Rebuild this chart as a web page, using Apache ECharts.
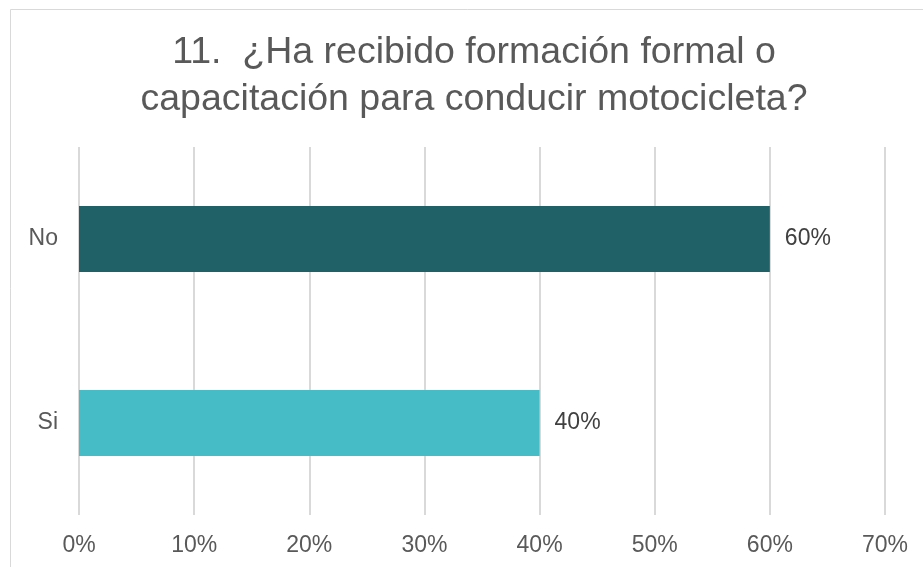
<!DOCTYPE html>
<html>
<head>
<meta charset="utf-8">
<script src="https://cdn.jsdelivr.net/npm/echarts@6/dist/echarts.min.js"></script>
<style>
  html, body { margin: 0; padding: 0; background: #fff; }
  #chart { width: 923px; height: 567px; }
</style>
</head>
<body>
<div id="chart"></div>
<script>
var categories = ['Si', 'No']
var values = [40, 60]
var barColors = ['#45BCC6', '#1F6167']
var tickMax = 70

var chart = echarts.init(document.getElementById('chart'))
chart.setOption({
  animation: false,
  graphic: [{
    type: 'rect',
    shape: { x: 10.5, y: 9.5, width: 1000, height: 1000 },
    style: { fill: 'none', stroke: '#d9d9d9', lineWidth: 1 },
    silent: true
  }],
  title: {
    text: '11.  ¿Ha recibido formación formal o\ncapacitación para conducir motocicleta?',
    left: 469,
    top: 24,
    textAlign: 'center',
    textStyle: {
      fontFamily: 'Liberation Sans, Arial, sans-serif',
      fontWeight: 'normal',
      fontSize: 37.5,
      lineHeight: 47,
      color: '#595959'
    }
  },
  grid: {
    left: 79,
    right: 38,
    top: 147,
    bottom: 52
  },
  xAxis: {
    type: 'value',
    min: 0,
    max: tickMax,
    interval: 10,
    axisLine: { show: false },
    axisTick: { show: false },
    splitLine: { lineStyle: { color: '#d9d9d9', width: 2 } },
    axisLabel: {
      margin: 19,
      formatter: '{value}%',
      fontFamily: 'Liberation Sans, Arial, sans-serif',
      fontSize: 23,
      color: '#595959'
    }
  },
  yAxis: {
    type: 'category',
    data: categories,
    axisLine: { show: false },
    axisTick: { show: false },
    axisLabel: {
      margin: 21,
      fontFamily: 'Liberation Sans, Arial, sans-serif',
      fontSize: 23,
      color: '#595959'
    }
  },
  series: [{
    type: 'bar',
    barWidth: 66,
    data: values.map(function (v, i) {
      return { value: v, itemStyle: { color: barColors[i] } }
    }),
    label: {
      show: true,
      position: 'right',
      distance: 15,
      formatter: '{c}%',
      fontFamily: 'Liberation Sans, Arial, sans-serif',
      fontSize: 23,
      color: '#404040'
    }
  }]
})
</script>
</body>
</html>
